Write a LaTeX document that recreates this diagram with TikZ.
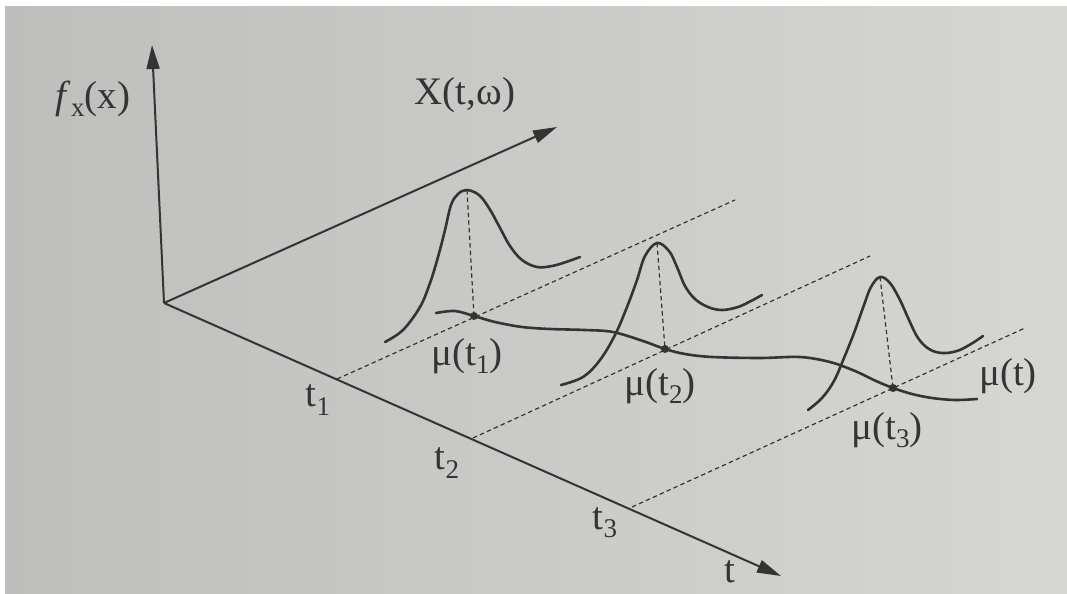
\documentclass[tikz,border=0pt]{standalone}
\usepackage{fontspec}
\setmainfont{Liberation Serif}
\usetikzlibrary{arrows.meta}
\definecolor{bgL}{RGB}{190,190,188}
\definecolor{bgR}{RGB}{214,214,211}
\definecolor{ink}{RGB}{52,52,52}
\newcommand\lsub[1]{\raisebox{-0.45ex}{\fontsize{13.5}{14}\selectfont #1}}
\begin{document}
\begin{tikzpicture}[x=0.5pt,y=-0.5pt,
  axis/.style={draw=ink, line width=1pt, -{Triangle[length=12pt,width=6.5pt]}},
  guide/.style={draw=ink, line width=0.6pt, dash pattern=on 2.2pt off 1.6pt},
  curve/.style={draw=ink, line width=1.3pt, line cap=round},
  lbl/.style={text=ink, font=\fontsize{19.5}{21}\selectfont, inner sep=0pt},
  mdot/.style={circle, fill=ink, inner sep=0pt, minimum size=4pt}]
\useasboundingbox (0,0) rectangle (1067,594);
\fill[white] (0,0) rectangle (1067,594);
\shade[left color=bgL, right color=bgR] (5,6) rectangle (1067,594);

% axes
\coordinate (O) at (164,303);
\coordinate (ftip) at (152,45);
\coordinate (xtip) at (557,127);
\coordinate (ttip) at (781,576);
\draw[axis] (O) -- (ftip);
\draw[axis] (O) -- (xtip);
\draw[axis] (O) -- (ttip);

% labels
\node[lbl] (fx) at (93,99) {\textit{f}\lsub{x}(x)};
\node[lbl] (xl) at (465,95) {X(t,ω)};
\node[lbl] (tl) at (730,572) {t};
\node[lbl] (t1l) at (318,400) {t\lsub{1}};
\node[lbl] (t2l) at (447,463) {t\lsub{2}};
\node[lbl] (t3l) at (605,523) {t\lsub{3}};

% guide lines
\coordinate (a1) at (337,379); \coordinate (e1) at (735,200);
\coordinate (a2) at (473,438); \coordinate (e2) at (870,256);
\coordinate (a3) at (632,507); \coordinate (e3) at (1025,328);
\draw[guide] (a1) -- (e1);
\draw[guide] (a2) -- (e2);
\draw[guide] (a3) -- (e3);

% mean points
\node[mdot] (m1) at (474,316) {};
\node[mdot] (m2) at (665,349) {};
\node[mdot] (m3) at (893,388) {};
\coordinate (p1) at (467,190);
\coordinate (p2) at (657,243);
\coordinate (p3) at (880,277);
\draw[guide] (p1) -- (m1.center);
\draw[guide] (p2) -- (m2.center);
\draw[guide] (p3) -- (m3.center);

% densities
\draw[curve] plot[smooth, tension=0.6] coordinates {(385,342) (403,330) (420,307) (430,283) (438,257) (445,230) (451,205) (458,194) (467,190) (479,195) (489,208) (499,226) (510,246) (522,260) (537,267) (552,266) (566,262) (580,257)};
\draw[curve] plot[smooth, tension=0.6] coordinates {(561,385) (583,377) (600,360) (615,335) (627,307) (637,280) (645,256) (657,243) (669,251) (677,267) (685,286) (695,299) (708,307) (722,310) (738,307) (751,301) (762,295)};
\draw[curve] plot[smooth, tension=0.6] coordinates {(808,410) (822,398) (834,381) (844,358) (854,333) (864,305) (871,287) (880,277) (890,283) (900,300) (909,320) (918,338) (929,349) (942,353) (957,351) (971,344) (983,336)};

% mean curve
\draw[curve] plot[smooth, tension=0.55] coordinates {(436,313) (455,311) (474,316) (495,322) (522,327) (550,329) (585,330) (613,332) (643,341) (665,349) (685,354) (712,357) (760,358) (800,357) (830,362) (855,371) (876,381) (893,388) (912,394) (932,398) (955,400) (977,399)};

% mean labels
\node[lbl] (mu1) at (467,356) {μ(t\lsub{1})};
\node[lbl] (mu2) at (660,386) {μ(t\lsub{2})};
\node[lbl] (mu3) at (887,430) {μ(t\lsub{3})};
\node[lbl] (mut) at (1008,376) {μ(t)};
\end{tikzpicture}
\end{document}
